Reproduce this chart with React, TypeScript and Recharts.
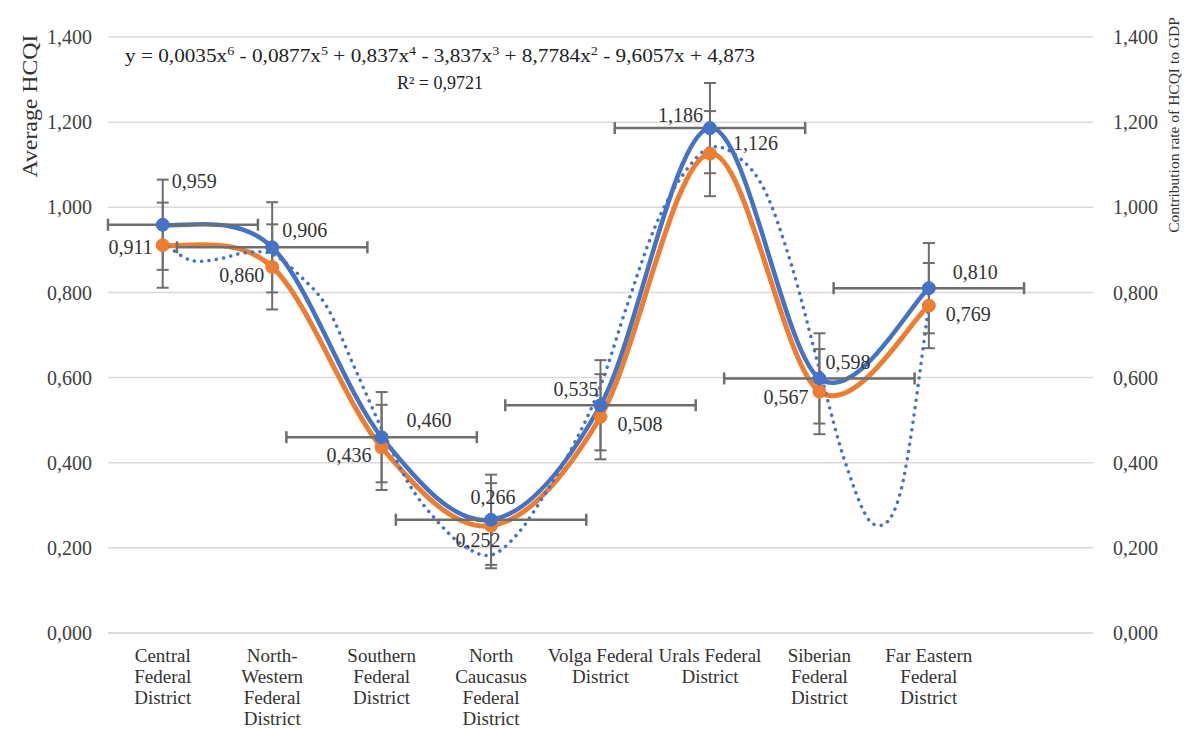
import React from "react";
import {
  ComposedChart,
  Line,
  Scatter,
  ErrorBar,
  XAxis,
  YAxis,
  CartesianGrid,
  LabelList,
} from "recharts";

const districts = [
  "Central\nFederal\nDistrict",
  "North-\nWestern\nFederal\nDistrict",
  "Southern\nFederal\nDistrict",
  "North\nCaucasus\nFederal\nDistrict",
  "Volga Federal\nDistrict",
  "Urals Federal\nDistrict",
  "Siberian\nFederal\nDistrict",
  "Far Eastern\nFederal\nDistrict",
];
const districtX = [1, 2, 3, 4, 5, 6, 7, 8];
const avgHcqi = [0.959, 0.906, 0.46, 0.266, 0.535, 1.186, 0.598, 0.81];
const contribution = [0.911, 0.86, 0.436, 0.252, 0.508, 1.126, 0.567, 0.769];
const hcqiErrY = 0.106;
const hcqiErrX = 0.87;
const contribErrY = 0.1;

// poly trendline
const trendX = [1, 1.25, 1.5, 1.75, 2, 2.25, 2.5, 2.75, 3, 3.25, 3.5, 3.75, 4, 4.25, 4.5, 4.75, 5, 5.25, 5.5, 5.75, 6, 6.25, 6.5, 6.75, 7, 7.25, 7.5, 7.75, 8];
const trendY = [0.918, 0.876, 0.878, 0.893, 0.89, 0.84, 0.766, 0.625, 0.48, 0.35, 0.265, 0.205, 0.183, 0.235, 0.33, 0.44, 0.58, 0.775, 0.955, 1.075, 1.14, 1.12, 1.04, 0.86, 0.62, 0.39, 0.255, 0.34, 0.77];

const yTicks = [0, 0.2, 0.4, 0.6, 0.8, 1.0, 1.2, 1.4];
const xDomain = [0.5, 9.5];

const BLUE = "#4472c4";
const ORANGE = "#ed7d31";
const ERR = "#6e6e6e";
const GRID = "#d9d9d9";
const FONT = '"Liberation Serif", "Times New Roman", serif';

// horizontal bar gets cut at the plot edge like in excel
const hcqiData = districtX.map((x, i) => ({
  x,
  y: avgHcqi[i],
  ex: [Math.min(hcqiErrX, x - xDomain[0]), hcqiErrX],
  ey: hcqiErrY,
}));
const contribData = districtX.map((x, i) => ({ x, y: contribution[i], ey: contribErrY }));
const trendData = trendX.map((x, i) => ({ x, y: trendY[i] }));

// label placement relative to the point: [dx, dy, anchor]
const blueLabelPos: [number, number, string][] = [
  [9, -44, "start"], [10, -17, "start"], [25, -17, "start"], [2, -23, "middle"],
  [-2, -16, "end"], [-7, -13, "end"], [6, -16, "start"], [24, -16, "start"],
];
const orangeLabelPos: [number, number, string][] = [
  [-10, 2, "end"], [-8, 8, "end"], [-10, 8, "end"], [-13, 14, "middle"],
  [17, 7, "start"], [23, -11, "start"], [-11, 5, "end"], [17, 8, "start"],
];

const fmt = (v: number) => v.toFixed(3).replace(".", ",");

// excel-like smoothed line (catmull-rom bezier)
function excelSmooth(context: any) {
  let pts: number[][] = [];
  return {
    areaStart() {},
    areaEnd() {},
    lineStart() {
      pts = [];
    },
    point(x: number, y: number) {
      pts.push([+x, +y]);
    },
    lineEnd() {
      if (!pts.length) return;
      context.moveTo(pts[0][0], pts[0][1]);
      for (let i = 0; i < pts.length - 1; i++) {
        const p0 = pts[i - 1] || pts[i];
        const p1 = pts[i];
        const p2 = pts[i + 1];
        const p3 = pts[i + 2] || p2;
        context.bezierCurveTo(
          p1[0] + (p2[0] - p0[0]) / 6,
          p1[1] + (p2[1] - p0[1]) / 6,
          p2[0] - (p3[0] - p1[0]) / 6,
          p2[1] - (p3[1] - p1[1]) / 6,
          p2[0],
          p2[1]
        );
      }
    },
  };
}

const makeLabel = (pos: [number, number, string][]) => (props: any) => {
  const { x, y, value, index } = props;
  const p = pos[index];
  if (!p) return null;
  return (
    <text
      x={x + p[0]}
      y={y + p[1]}
      textAnchor={p[2]}
      dominantBaseline="central"
      fontFamily={FONT}
      fontSize={20}
      fill="#333"
    >
      {fmt(value)}
    </text>
  );
};

const CategoryTick = (props: any) => {
  const { x, y, payload } = props;
  const label = districts[Math.round(payload.value) - 1];
  if (!label) return null;
  return (
    <g transform={`translate(${x},${y})`}>
      {label.split("\n").map((line, i) => (
        <text key={i} x={0} y={29 + i * 21} textAnchor="middle" fontFamily={FONT} fontSize={19} fill="#333">
          {line}
        </text>
      ))}
    </g>
  );
};

const Dot = (color: string) => (props: any) =>
  <circle cx={props.cx} cy={props.cy} r={6.5} fill={color} stroke={color} />;

export default function App() {
  return (
    <div style={{ position: "relative", width: 1182, height: 724, outline: "1px solid #e3e3e3", background: "#fff" }}>
      <ComposedChart width={1182} height={724} margin={{ top: 29, right: 10, bottom: 9, left: 10 }}>
        <CartesianGrid yAxisId="left" vertical={false} stroke={GRID} strokeWidth={1.5} />
        <XAxis
          type="number"
          dataKey="x"
          domain={xDomain}
          ticks={districtX}
          interval={0}
          allowDataOverflow
          height={90}
          tickLine={false}
          tickSize={0}
          tickMargin={0}
          axisLine={{ stroke: GRID, strokeWidth: 1.5 }}
          tick={<CategoryTick />}
        />
        <YAxis
          yAxisId="left"
          domain={[0, 1.4]}
          ticks={yTicks}
          width={90}
          axisLine={false}
          tickLine={false}
          tickSize={14}
          tickMargin={2}
          tickFormatter={fmt}
          tick={{ fontFamily: FONT, fontSize: 20, fill: "#404040" }}
        />
        <YAxis
          yAxisId="right"
          orientation="right"
          domain={[0, 1.4]}
          ticks={yTicks}
          width={87}
          axisLine={false}
          tickLine={false}
          tickSize={18}
          tickMargin={2}
          tickFormatter={fmt}
          tick={{ fontFamily: FONT, fontSize: 20, fill: "#404040", textAnchor: "start" }}
        />
        <Line
          yAxisId="right"
          data={contribData}
          dataKey="y"
          type={excelSmooth as any}
          stroke={ORANGE}
          strokeWidth={5}
          dot={false}
          isAnimationActive={false}
        >
          <LabelList dataKey="y" content={makeLabel(orangeLabelPos)} />
        </Line>
        <Line
          yAxisId="left"
          data={hcqiData}
          dataKey="y"
          type={excelSmooth as any}
          stroke={BLUE}
          strokeWidth={4.5}
          dot={false}
          isAnimationActive={false}
        >
          <LabelList dataKey="y" content={makeLabel(blueLabelPos)} />
        </Line>
        <Line
          yAxisId="left"
          data={trendData}
          dataKey="y"
          type={excelSmooth as any}
          stroke={BLUE}
          strokeWidth={3.5}
          strokeDasharray="0.1 7.3"
          strokeLinecap="round"
          dot={false}
          isAnimationActive={false}
        />
        <Scatter yAxisId="right" data={contribData} dataKey="y" shape={Dot(ORANGE)} isAnimationActive={false}>
          <ErrorBar dataKey="ey" direction="y" width={6} stroke={ERR} strokeWidth={2} />
        </Scatter>
        <Scatter yAxisId="left" data={hcqiData} dataKey="y" shape={Dot(BLUE)} isAnimationActive={false}>
          <ErrorBar dataKey="ey" direction="y" width={6} stroke={ERR} strokeWidth={2} />
          <ErrorBar dataKey="ex" direction="x" width={6} stroke={ERR} strokeWidth={2.5} />
        </Scatter>
      </ComposedChart>
      <svg width={1182} height={724} style={{ position: "absolute", left: 0, top: 0, pointerEvents: "none" }}>
        <text x={117} y={54} fontFamily={FONT} fontSize={18} fill="#222" textLength={630} lengthAdjust="spacingAndGlyphs">
          y = 0,0035x<tspan fontSize={12} dy={-7}>6</tspan>
          <tspan dy={7}> - 0,0877x</tspan><tspan fontSize={12} dy={-7}>5</tspan>
          <tspan dy={7}> + 0,837x</tspan><tspan fontSize={12} dy={-7}>4</tspan>
          <tspan dy={7}> - 3,837x</tspan><tspan fontSize={12} dy={-7}>3</tspan>
          <tspan dy={7}> + 8,7784x</tspan><tspan fontSize={12} dy={-7}>2</tspan>
          <tspan dy={7}> - 9,6057x + 4,873</tspan>
        </text>
        <text x={432} y={81} textAnchor="middle" fontFamily={FONT} fontSize={18} fill="#222">
          R² = 0,9721
        </text>
        <text
          transform="translate(29,98) rotate(-90)"
          textAnchor="middle"
          fontFamily={FONT}
          fontSize={21}
          fill="#333"
          textLength={143}
          lengthAdjust="spacingAndGlyphs"
        >
          Average HCQI
        </text>
        <text
          transform="translate(1171,117) rotate(-90)"
          textAnchor="middle"
          fontFamily={FONT}
          fontSize={15.5}
          fill="#333"
        >
          Contribution rate of HCQI to GDP
        </text>
      </svg>
    </div>
  );
}
